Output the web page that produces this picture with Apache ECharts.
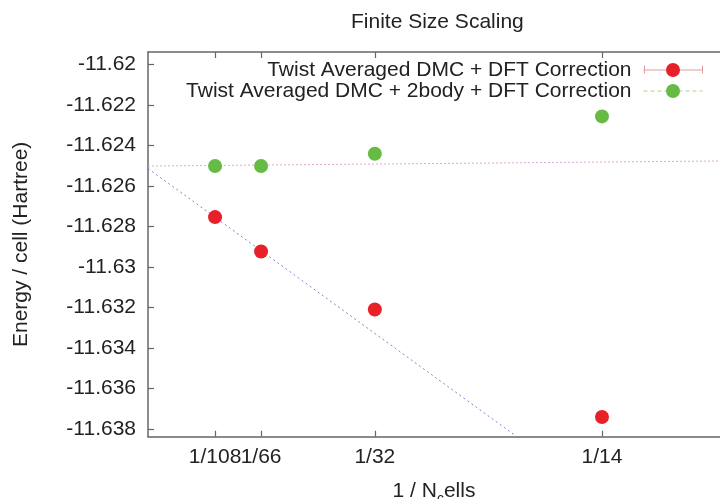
<!DOCTYPE html>
<html><head><meta charset="utf-8">
<script src="https://cdn.jsdelivr.net/npm/echarts@6/dist/echarts.min.js"></script>
<style>html,body{margin:0;padding:0;background:#fff}#c{width:720px;height:499px}</style>
</head><body><div id="c"></div>
<script>
// ---- data ----
const xValues = [0.01055, 0.01779, 0.03569, 0.07143];
const xTickLabels = ['1/108', '1/66', '1/32', '1/14'];
const dmcEnergy = [-11.62754, -11.62924, -11.6321, -11.63741];
const dmc2bodyEnergy = [-11.62502, -11.62502, -11.62441, -11.62257];
const fitX = [0, 0.09];
const dmcFit = [-11.62514, -11.64567];
const dmc2bodyFit = [-11.62502, -11.62477];
const yTicks = [-11.638, -11.636, -11.634, -11.632, -11.63, -11.628, -11.626, -11.624, -11.622, -11.62];
const seriesNames = ['Twist Averaged DMC + DFT Correction', 'Twist Averaged DMC + 2body + DFT Correction'];

const FONT = '"Liberation Sans", Helvetica, Arial, sans-serif';
const AXIS_COLOR = '#666';
const TEXT_COLOR = '#222';
const RED_SAMPLE = '#e39a9a';

const chart = echarts.init(document.getElementById('c'));

function xLabel(v) {
  const i = xValues.findIndex(x => Math.abs(x - v) < 1e-9);
  return i >= 0 ? xTickLabels[i] : '';
}
function yLabel(v) {
  return String(parseFloat(Number(v).toFixed(3)));
}

const pairs = (xs, ys) => xs.map((x, i) => [x, ys[i]]);

// The 1/108 and 1/66 labels overlap in the reference; ECharts would hide one of two
// overlapping labels on one axis, so the second one is drawn by an overlaid bottom axis.
const xMain = xValues.filter((_, i) => i !== 1);
const xExtra = xValues.filter((_, i) => i === 1);

const tickStyle = { color: AXIS_COLOR, width: 1.2 };
const labelStyle = { fontSize: 21, color: TEXT_COLOR, margin: 10, fontFamily: FONT, hideOverlap: false, showMinLabel: true, showMaxLabel: true, formatter: xLabel };

const xBase = {
  type: 'value', min: 0, max: 0.09, gridIndex: 0,
  axisLine: { show: true, lineStyle: { color: AXIS_COLOR, width: 1.5 } },
  splitLine: { show: false }
};

chart.setOption({
  animation: false,
  backgroundColor: '#fff',
  textStyle: { fontFamily: FONT },
  title: {
    text: 'Finite Size Scaling', left: 351, top: 12, padding: 0,
    textStyle: { fontSize: 21, fontWeight: 'normal', color: TEXT_COLOR, fontFamily: FONT }
  },
  legend: {
    orient: 'vertical', right: 17, top: 59.5, align: 'right', padding: 0,
    itemWidth: 59, itemHeight: 17.5, itemGap: 0, selectedMode: false,
    textStyle: { fontSize: 21, lineHeight: 20.7, color: TEXT_COLOR, fontFamily: FONT, padding: [0, 7, 0, 0] },
    data: [
      { name: seriesNames[0], lineStyle: { color: RED_SAMPLE, width: 1, type: 'solid', opacity: 1 } },
      { name: seriesNames[1], lineStyle: { color: '#a8d48c', width: 1, type: [4, 3], opacity: 1 } }
    ]
  },
  // error-bar end caps of the legend sample
  graphic: [
    { type: 'line', shape: { x1: 644.5, y1: 65.5, x2: 644.5, y2: 73.5 }, style: { stroke: RED_SAMPLE, lineWidth: 1 }, silent: true },
    { type: 'line', shape: { x1: 702.5, y1: 65.5, x2: 702.5, y2: 73.5 }, style: { stroke: RED_SAMPLE, lineWidth: 1 }, silent: true }
  ],
  grid: { left: 148, top: 52, right: 0, bottom: 62.3, containLabel: false, outerBoundsMode: 'none' },
  xAxis: [
    Object.assign({}, xBase, {
      position: 'bottom',
      axisTick: { show: true, inside: true, length: 6, customValues: xMain, lineStyle: tickStyle },
      axisLabel: Object.assign({ show: true, customValues: xMain }, labelStyle),
      name: '1 / N{sub|c}ells', nameLocation: 'middle', nameGap: 41,
      nameTextStyle: {
        fontSize: 21, color: TEXT_COLOR, fontFamily: FONT,
        rich: { sub: { fontSize: 14, color: TEXT_COLOR, fontFamily: FONT, padding: [14, 0, 0, 0] } }
      }
    }),
    Object.assign({}, xBase, {
      position: 'top',
      axisTick: { show: true, inside: true, length: 6, customValues: xValues, lineStyle: tickStyle },
      axisLabel: { show: false }
    }),
    Object.assign({}, xBase, {
      position: 'bottom', offset: 0,
      axisLine: { show: false },
      axisTick: { show: true, inside: true, length: 6, customValues: xExtra, lineStyle: tickStyle },
      axisLabel: Object.assign({ show: true, customValues: xExtra }, labelStyle)
    })
  ],
  yAxis: {
    type: 'value', min: -11.63838, max: -11.61939,
    axisLine: { show: true, lineStyle: { color: AXIS_COLOR, width: 1.5 } },
    axisTick: { show: true, inside: true, length: 6, customValues: yTicks, lineStyle: tickStyle },
    axisLabel: { customValues: yTicks, formatter: yLabel, fontSize: 21, color: TEXT_COLOR, margin: 12, fontFamily: FONT, hideOverlap: false, showMinLabel: true, showMaxLabel: true },
    splitLine: { show: false },
    name: 'Energy / cell (Hartree)', nameLocation: 'middle', nameGap: 116,
    nameTextStyle: { fontSize: 21, color: TEXT_COLOR, fontFamily: FONT }
  },
  series: [
    {
      type: 'line', data: pairs(fitX, dmcFit), symbol: 'none', silent: true, clip: true, z: 1,
      lineStyle: { color: '#7788cc', width: 1, type: [2, 3] }
    },
    {
      type: 'line', data: pairs(fitX, dmc2bodyFit), symbol: 'none', silent: true, clip: true, z: 1,
      lineStyle: { color: '#dcaad4', width: 1, type: [2, 2] }
    },
    {
      name: seriesNames[0], type: 'line', data: pairs(xValues, dmcEnergy),
      symbol: 'circle', symbolSize: 14, z: 3,
      itemStyle: { color: '#e8202a' }, lineStyle: { opacity: 0 }
    },
    {
      name: seriesNames[1], type: 'line', data: pairs(xValues, dmc2bodyEnergy),
      symbol: 'circle', symbolSize: 14, z: 3,
      itemStyle: { color: '#66bb44' }, lineStyle: { opacity: 0 }
    }
  ]
});
</script>
</body></html>
